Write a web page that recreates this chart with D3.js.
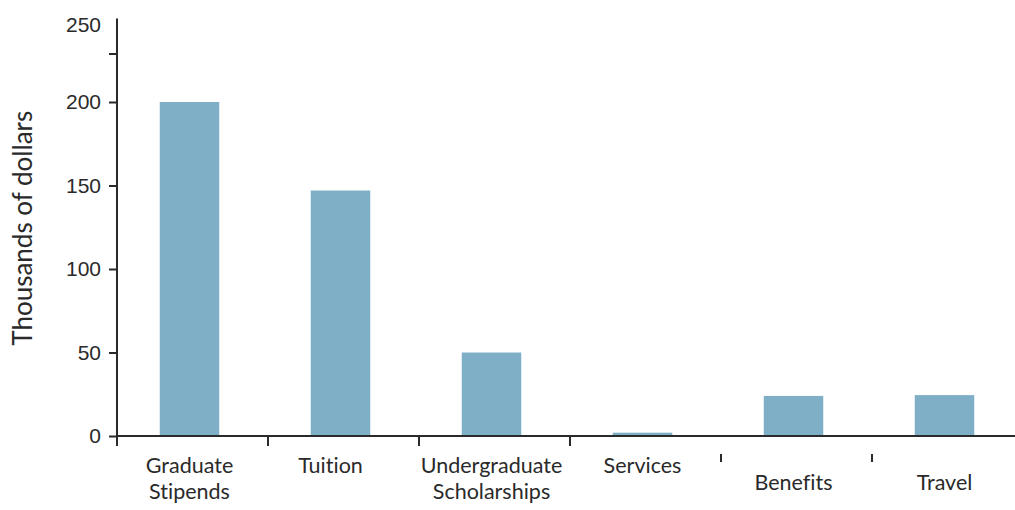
<!DOCTYPE html>
<html>
<head>
<meta charset="utf-8">
<script src="https://cdn.jsdelivr.net/npm/d3@7"></script>
<style>
  html, body { margin: 0; padding: 0; background: #fff; }
  svg { display: block; font-family: Lato, "Open Sans", sans-serif; font-variant-ligatures: none; }
</style>
</head>
<body>
<svg id="chart" width="1015" height="510"></svg>
<script>
// Spending by category, thousands of dollars
const categories = ["Graduate Stipends", "Tuition", "Undergraduate Scholarships", "Services", "Benefits", "Travel"];
const labelLines = [["Graduate", "Stipends"], ["Tuition"], ["Undergraduate", "Scholarships"], ["Services"], ["Benefits"], ["Travel"]];
const amounts = [200, 147, 50, 2, 24, 24.5];
const yTicks = [0, 50, 100, 150, 200, 250];

const svg = d3.select("#chart");
const x0 = 117, x1 = 1023, yBase = 436, yTop = 18.5;
const ink = "#2a2a2a";
const barColor = "#7eafc6";

const x = d3.scaleBand().domain(categories).range([x0, x1]).padding(0);
const y = d3.scaleLinear().domain([0, 250]).range([yBase, yTop]);
const barW = 59.5;
const barCenter = c => x(c) + x.bandwidth() / 2 - 3;

// bars
svg.append("g").selectAll("rect")
  .data(categories)
  .join("rect")
  .attr("x", c => barCenter(c) - barW / 2)
  .attr("y", (c, i) => y(amounts[i]))
  .attr("width", barW)
  .attr("height", (c, i) => y(0) - y(amounts[i]))
  .attr("fill", barColor);

// y axis
const yAxis = svg.append("g")
  .attr("transform", `translate(${x0},0)`)
  .call(d3.axisLeft(y).tickValues(yTicks).tickSize(8).tickPadding(8).tickFormat(d3.format("d")));
yAxis.select(".domain").attr("d", `M0,${yTop}V${yBase}`).attr("stroke", ink).attr("stroke-width", 2);
yAxis.selectAll(".tick line").attr("stroke", ink).attr("stroke-width", 2);
yAxis.selectAll(".tick text").attr("fill", ink).attr("font-size", 21);
// the top tick mark sits a little below its label
yAxis.selectAll(".tick").filter(d => d === 250).select("line").attr("transform", "translate(0,35)");
yAxis.selectAll(".tick").filter(d => d === 250).select("text").attr("dy", "0.6em");

// x axis
const xAxis = svg.append("g")
  .attr("transform", `translate(0,${yBase})`);
xAxis.append("line")
  .attr("x1", x0).attr("x2", x1)
  .attr("stroke", ink).attr("stroke-width", 2);
xAxis.selectAll("line.tick")
  .data(categories)
  .join("line")
  .attr("class", "tick")
  .attr("x1", c => x(c)).attr("x2", c => x(c))
  .attr("y1", (c, i) => i >= 4 ? 18 : 0)
  .attr("y2", (c, i) => i >= 4 ? 26 : 10)
  .attr("stroke", ink).attr("stroke-width", 2);

const labels = xAxis.selectAll("text.cat")
  .data(categories)
  .join("text")
  .attr("class", "cat")
  .attr("text-anchor", "middle")
  .attr("fill", ink)
  .attr("font-size", 21.5)
  .attr("transform", (c, i) => `translate(${barCenter(c) - (i === 1 ? 10 : 0)},${i >= 4 ? 54 : 37})`);
labels.selectAll("tspan")
  .data((c, i) => labelLines[i])
  .join("tspan")
  .attr("x", 0)
  .attr("dy", (d, j) => j === 0 ? 0 : 26)
  .text(d => d);

// y axis title
svg.append("text")
  .attr("transform", `translate(32,${(yTop + yBase) / 2 + 1}) rotate(-90)`)
  .attr("text-anchor", "middle")
  .attr("fill", ink)
  .attr("font-size", 26)
  .text("Thousands of dollars");
</script>
</body>
</html>
